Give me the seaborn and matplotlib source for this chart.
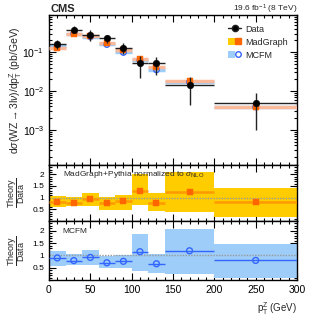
import numpy as np
import pandas as pd
import matplotlib
matplotlib.use("Agg")
import matplotlib.pyplot as plt
import seaborn as sns
from matplotlib.patches import Patch
from matplotlib.lines import Line2D
from matplotlib.legend_handler import HandlerTuple
from matplotlib.ticker import MultipleLocator, LogLocator, NullFormatter, FixedLocator

# ── values ─────────────────────────────────────────────────────────────────
bin_edges    = [0, 20, 40, 60, 80, 100, 120, 140, 200, 300]
data_xsec    = [0.157, 0.38, 0.27, 0.224, 0.129, 0.053, 0.053, 0.0143, 0.0049]
data_lo      = [0.117, 0.32, 0.19, 0.17, 0.092, 0.022, 0.026, 0.0044, 0.0010]
data_hi      = [0.204, 0.46, 0.37, 0.27, 0.17, 0.079, 0.076, 0.023, 0.0087]
madgraph     = [0.130, 0.293, 0.257, 0.172, 0.111, 0.068, 0.041, 0.0179, 0.0039]
mcfm         = [0.141, 0.300, 0.248, 0.157, 0.098, 0.061, 0.035, 0.0170, 0.0039]
mg_band_lo   = [0.59, 0.63, 0.63, 0.49, 0.49, 0.70, 0.42, 0.40, 0.17]
mg_band_hi   = [1.08, 1.04, 1.20, 1.04, 1.11, 2.00, 1.18, 2.10, 1.41]
mcfm_band_lo = [0.58, 0.60, 0.63, 0.50, 0.47, 0.36, 0.30, 0.26, 0.07]
mcfm_band_hi = [1.17, 1.06, 1.23, 0.96, 1.00, 1.87, 1.06, 2.07, 1.46]

edges  = np.array(bin_edges, dtype=float)
lo_e, hi_e = edges[:-1], edges[1:]
center = 0.5 * (lo_e + hi_e)
half   = 0.5 * (hi_e - lo_e)
data   = np.array(data_xsec)

df = pd.DataFrame({"pt": center, "data": data,
                   "mg": madgraph, "mcfm": mcfm,
                   "r_mg": np.array(madgraph) / data,
                   "r_mcfm": np.array(mcfm) / data})

# ── style ──────────────────────────────────────────────────────────────────
sns.set_style("ticks")
plt.rcParams["font.family"] = ["Liberation Sans", "DejaVu Sans"]
plt.rcParams["mathtext.fontset"] = "custom"
plt.rcParams["mathtext.rm"] = "Liberation Sans"
plt.rcParams["mathtext.it"] = "Liberation Sans:italic"
plt.rcParams["mathtext.bf"] = "Liberation Sans:bold"

YELLOW = "#ffcc00"
ORANGE = "#ff6600"
ORLINE = "#ff9900"
PALEOR = "#f9b99a"
LBLUE  = "#9dcdf8"
BLUE   = "#3366ff"

fig = plt.figure(figsize=(3.15, 3.30), dpi=100)
L, W = 49 / 315, 248 / 315
def box(top, bot):
    return [L, 1 - bot / 330, W, (bot - top) / 330]

ax  = fig.add_axes(box(15, 165))
ax1 = fig.add_axes(box(165, 221))
ax2 = fig.add_axes(box(221, 280))

def style(a, xlab=False):
    a.tick_params(direction="in", which="both", top=True, right=True,
                  labelsize=7.5, width=0.8, colors="black")
    a.tick_params(which="major", length=5)
    a.tick_params(which="minor", length=2.5)
    for s in a.spines.values():
        s.set_linewidth(1.0)
        s.set_color("black")
    a.set_xlim(0, 300)
    a.xaxis.set_major_locator(MultipleLocator(50))
    a.xaxis.set_minor_locator(MultipleLocator(10))
    if not xlab:
        a.tick_params(labelbottom=False)

# ── main panel ─────────────────────────────────────────────────────────────
ax.hlines(mcfm, lo_e, hi_e, color=LBLUE, lw=2.5, zorder=2)
ax.hlines(madgraph, lo_e, hi_e, color=PALEOR, lw=2.5, zorder=3)
sns.scatterplot(data=df, x="pt", y="mcfm", ax=ax, marker="o", s=16,
                facecolor="none", edgecolor=BLUE, linewidth=1.0, zorder=4)
sns.scatterplot(data=df, x="pt", y="mg", ax=ax, marker="s", s=14,
                color=ORANGE, edgecolor=ORANGE, zorder=5)
ax.errorbar(center, data, xerr=half,
            yerr=[data - np.array(data_lo), np.array(data_hi) - data],
            fmt="none", ecolor="#222222", elinewidth=1.0, capsize=0, zorder=6)
sns.scatterplot(data=df, x="pt", y="data", ax=ax, marker="o", s=22,
                color="black", edgecolor="black", zorder=7)
ax.set_yscale("log")
ax.set_ylim(1.25e-4, 0.9)
style(ax)
ax.yaxis.set_major_locator(FixedLocator([1e-3, 1e-2, 1e-1]))
ax.yaxis.set_minor_locator(LogLocator(base=10, subs=np.arange(2, 10)))
ax.yaxis.set_minor_formatter(NullFormatter())
ax.set_xlabel("")
ax.set_ylabel(r"d$\sigma$(WZ$\rightarrow$3l$\nu$)/dp$_{\rm T}^{\rm Z}$ (pb/GeV)",
              fontsize=7.5)
ax.yaxis.set_label_coords(-0.1, 0.5)

handles = [
    Line2D([0], [0], marker="o", color="#222222", lw=1.0, markersize=4.5,
           markerfacecolor="black"),
    (Patch(facecolor=YELLOW, edgecolor="none"),
     Line2D([0], [0], marker="s", ls="none", color=ORANGE, markersize=4)),
    (Patch(facecolor=LBLUE, edgecolor="none"),
     Line2D([0], [0], marker="o", ls="none", markerfacecolor="none",
            markeredgecolor=BLUE, markersize=4)),
]
ax.legend(handles, ["Data", "MadGraph", "MCFM"], loc="upper left",
          bbox_to_anchor=(0.69, 0.99), frameon=False, fontsize=6.5,
          handlelength=1.4, handleheight=0.9, handletextpad=0.5,
          labelspacing=0.45, handler_map={tuple: HandlerTuple(ndivide=None, pad=0)})

fig.text(L + 0.005, 1 - 9 / 330, "CMS", fontsize=8, fontweight="bold",
         va="center", ha="left")
fig.text(L + W, 1 - 9 / 330, r"19.6 fb$^{-1}$ (8 TeV)", fontsize=6,
         va="center", ha="right")

# ── ratio panels ───────────────────────────────────────────────────────────
def ratio_panel(a, col_r, blo, bhi, band_c, line_c, lw, marker, label):
    a.bar(center, np.array(bhi) - np.array(blo), bottom=blo, width=2 * half,
          color=band_c, edgecolor="none", zorder=1)
    a.axhline(1, color="#999999", lw=1.0, ls=(0, (1, 1)), zorder=2)
    a.hlines(df[col_r], lo_e, hi_e, color=line_c, lw=lw, zorder=3)
    if marker == "s":
        sns.scatterplot(data=df, x="pt", y=col_r, ax=a, marker="s", s=16,
                        color=ORANGE, edgecolor=ORANGE, zorder=4)
    else:
        sns.scatterplot(data=df, x="pt", y=col_r, ax=a, marker="o", s=18,
                        facecolor="none", edgecolor=BLUE, linewidth=1.0, zorder=4)
    a.set_ylim(0, 2.4)
    a.yaxis.set_major_locator(FixedLocator([0.5, 1, 1.5, 2]))
    a.yaxis.set_major_formatter(plt.FuncFormatter(lambda v, p: f"{v:g}"))
    a.yaxis.set_minor_locator(MultipleLocator(0.1))
    a.set_xlabel("")
    a.set_ylabel(r"$\dfrac{\rm Theory}{\rm Data}$", fontsize=6.5)
    a.yaxis.set_label_coords(-0.088, 0.5)
    a.text(0.055, 0.83, label, transform=a.transAxes, fontsize=6,
           ha="left", va="center")

ratio_panel(ax1, "r_mg", mg_band_lo, mg_band_hi, YELLOW, ORLINE, 1.8, "s",
            r"MadGraph+Pythia normalized to $\sigma_{\rm NLO}$")
style(ax1)
ax1.tick_params(axis="y", labelsize=6)

ratio_panel(ax2, "r_mcfm", mcfm_band_lo, mcfm_band_hi, LBLUE, BLUE, 1.0, "o",
            "MCFM")
style(ax2, xlab=True)
ax2.tick_params(axis="y", labelsize=6)
ax2.set_xlabel(r"p$_{\rm T}^{\rm Z}$ (GeV)", fontsize=7, loc="right")

fig.savefig("out.png", dpi=100)
